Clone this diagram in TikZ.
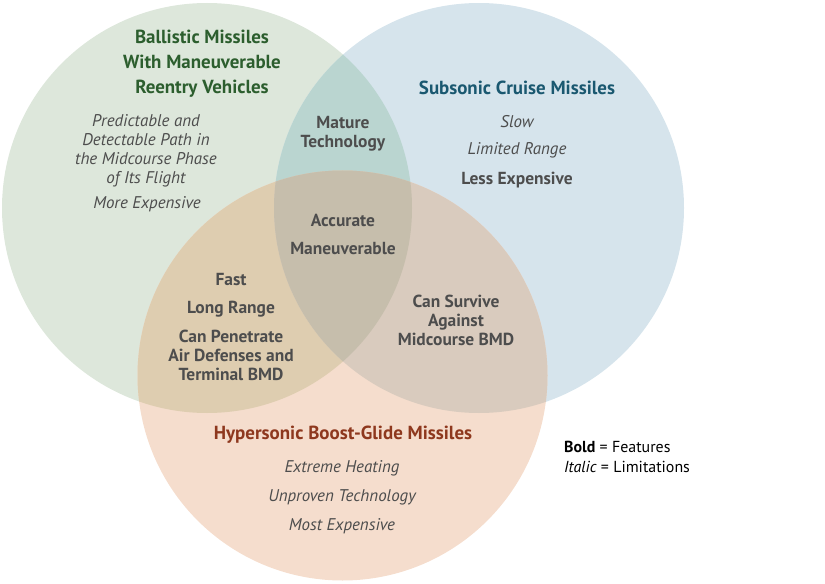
\documentclass[tikz,border=0pt]{standalone}
\usepackage{fontspec}
\setmainfont{PT Sans}
\usetikzlibrary{positioning}
\definecolor{ballgreen}{RGB}{221,231,219}
\definecolor{cruiseblue}{RGB}{214,228,236}
\definecolor{glideorange}{RGB}{245,221,205}
\definecolor{gbmix}{RGB}{186,213,208}
\definecolor{gomix}{RGB}{222,205,176}
\definecolor{bomix}{RGB}{217,203,190}
\definecolor{allmix}{RGB}{198,190,172}
\definecolor{ballhead}{RGB}{44,94,46}
\definecolor{cruisehead}{RGB}{26,88,112}
\definecolor{glidehead}{RGB}{142,56,30}
\definecolor{textgray}{RGB}{77,77,77}
\begin{document}
\begin{tikzpicture}[x=1bp,y=-1bp,
    feat/.style={font=\bfseries\fontsize{17.5}{19}\selectfont, text=textgray, align=center, inner sep=0pt},
    limit/.style={font=\itshape\fontsize{17}{19}\selectfont, text=textgray, align=center, inner sep=0pt},
    head/.style={font=\bfseries\fontsize{19}{25}\selectfont, align=center, inner sep=0pt}]
  \useasboundingbox (0,0) rectangle (825,584);
  % circles
  \def\ballcirc{(207,208) circle (205)}
  \def\cruisecirc{(479,208) circle (205)}
  \def\glidecirc{(342.5,375.5) circle (205)}
  \fill[ballgreen] \ballcirc;
  \fill[cruiseblue] \cruisecirc;
  \fill[glideorange] \glidecirc;
  % overlaps
  \begin{scope}
    \clip \ballcirc;
    \fill[gbmix] \cruisecirc;
    \fill[gomix] \glidecirc;
  \end{scope}
  \begin{scope}
    \clip \cruisecirc;
    \fill[bomix] \glidecirc;
    \clip \ballcirc;
    \fill[allmix] \glidecirc;
  \end{scope}
  % ballistic
  \node[head, text=ballhead] (ballhead) at (202,63.5) {Ballistic Missiles\\With Maneuverable\\Reentry Vehicles};
  \node[limit] (ballpath) at (146,151) {Predictable and\\Detectable Path in\\the Midcourse Phase\\of Its Flight};
  \node[limit] (ballcost) at (147,204) {More Expensive};
  % cruise
  \node[head, text=cruisehead] (cruisehead) at (517,88) {Subsonic Cruise Missiles};
  \node[limit] (cruiseslow) at (517,122) {Slow};
  \node[limit] (cruiserange) at (517,150) {Limited Range};
  \node[feat] (cruisecost) at (517,180) {Less Expensive};
  % glide
  \node[head, text=glidehead] (glidehead) at (343,435) {Hypersonic Boost-Glide Missiles};
  \node[limit] (glideheat) at (342,468) {Extreme Heating};
  \node[limit] (glidetech) at (342,497) {Unproven Technology};
  \node[limit] (glidecost) at (342,526) {Most Expensive};
  % overlaps
  \node[feat] (mature) at (343,133.5) {Mature\\Technology};
  \node[feat] (accurate) at (343,220) {Accurate};
  \node[feat] (maneuver) at (343,249) {Maneuverable};
  \node[feat] (fast) at (231,280) {Fast};
  \node[feat] (longrange) at (231,309) {Long Range};
  \node[feat] (penetrate) at (231,355) {Can Penetrate\\Air Defenses and\\Terminal BMD};
  \node[feat] (survive) at (456,320) {Can Survive\\Against\\Midcourse BMD};
  % legend
  \node[anchor=west, font=\fontsize{16}{20}\selectfont, align=left, inner sep=0pt] (legend) at (564,457)
    {\textbf{Bold} = Features\\\textit{Italic} = Limitations};
\end{tikzpicture}
\end{document}
